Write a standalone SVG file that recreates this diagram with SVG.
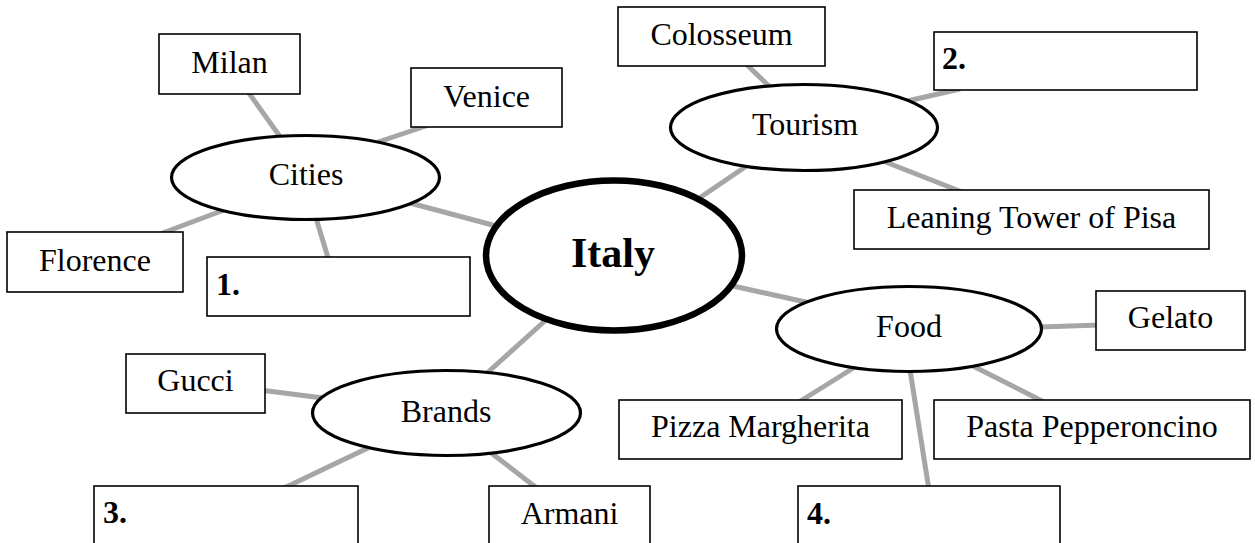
<svg xmlns="http://www.w3.org/2000/svg" width="1255" height="543" viewBox="0 0 1255 543">
<style>
.bg{fill:#ffffff}
.ln{stroke:#a6a6a6;stroke-width:5;fill:none;stroke-linecap:butt}
.box{fill:#ffffff;stroke:#000000;stroke-width:1.6}
.ell{fill:#ffffff;stroke:#000000;stroke-width:3.2}
.main{fill:#ffffff;stroke:#000000;stroke-width:6.5}
.t{font-family:"Liberation Serif","Times New Roman",serif;font-size:32px;fill:#000000;text-anchor:middle}
.n{font-family:"Liberation Serif","Times New Roman",serif;font-size:32px;font-weight:bold;fill:#000000}
.big{font-family:"Liberation Serif","Times New Roman",serif;font-size:42px;font-weight:bold;fill:#000000;text-anchor:middle}
</style>
<rect class="bg" x="0" y="0" width="1255" height="543"/>
<g id="connectors">
<line class="ln" x1="246" y1="89" x2="281" y2="138"/>
<line class="ln" x1="429" y1="125" x2="378" y2="142"/>
<line class="ln" x1="160" y1="234" x2="224" y2="210"/>
<line class="ln" x1="316" y1="218" x2="329" y2="261"/>
<line class="ln" x1="410" y1="203" x2="500" y2="227"/>
<line class="ln" x1="745" y1="63" x2="771" y2="88"/>
<line class="ln" x1="960" y1="89" x2="903" y2="102"/>
<line class="ln" x1="883" y1="161" x2="962" y2="192"/>
<line class="ln" x1="748" y1="165" x2="695" y2="201"/>
<line class="ln" x1="733" y1="286" x2="810" y2="303"/>
<line class="ln" x1="1040" y1="327" x2="1100" y2="325"/>
<line class="ln" x1="855" y1="367" x2="799" y2="402"/>
<line class="ln" x1="971" y1="365" x2="1044" y2="402"/>
<line class="ln" x1="910" y1="370" x2="929" y2="490"/>
<line class="ln" x1="260" y1="390" x2="323" y2="398"/>
<line class="ln" x1="282" y1="489" x2="370" y2="447"/>
<line class="ln" x1="490" y1="452" x2="538" y2="489"/>
<line class="ln" x1="486" y1="374" x2="547" y2="319"/>
</g>
<g id="italy"><ellipse class="main" cx="614" cy="255.5" rx="128" ry="75"/><text class="big" x="613" y="267">Italy</text></g>
<g id="cities"><ellipse class="ell" cx="305.5" cy="177.5" rx="134" ry="42"/><text class="t" x="306" y="185">Cities</text></g>
<g id="tourism"><ellipse class="ell" cx="804" cy="127.5" rx="133.5" ry="43"/><text class="t" x="805" y="135">Tourism</text></g>
<g id="brands"><ellipse class="ell" cx="446.5" cy="413" rx="134" ry="42.5"/><text class="t" x="446" y="422">Brands</text></g>
<g id="food"><ellipse class="ell" cx="909" cy="329" rx="132.5" ry="42.5"/><text class="t" x="909" y="337">Food</text></g>
<g id="milan"><rect class="box" x="159" y="34" width="141" height="60"/><text class="t" x="229.5" y="73">Milan</text></g>
<g id="venice"><rect class="box" x="411" y="68" width="151" height="59"/><text class="t" x="486.5" y="107">Venice</text></g>
<g id="florence"><rect class="box" x="7" y="232" width="176" height="60"/><text class="t" x="95" y="271">Florence</text></g>
<g id="blank1"><rect class="box" x="207" y="257" width="263" height="59"/><text class="n" x="216" y="295">1.</text></g>
<g id="colosseum"><rect class="box" x="618" y="7" width="207" height="59"/><text class="t" x="721.5" y="45">Colosseum</text></g>
<g id="blank2"><rect class="box" x="934" y="32" width="263" height="58"/><text class="n" x="942" y="69">2.</text></g>
<g id="pisa"><rect class="box" x="854" y="190" width="355" height="59"/><text class="t" x="1031.5" y="228">Leaning Tower of Pisa</text></g>
<g id="gelato"><rect class="box" x="1096" y="291" width="149" height="59"/><text class="t" x="1170.5" y="328">Gelato</text></g>
<g id="pizza"><rect class="box" x="619" y="400" width="283" height="59"/><text class="t" x="760.5" y="437">Pizza Margherita</text></g>
<g id="pasta"><rect class="box" x="934" y="400" width="316" height="59"/><text class="t" x="1092" y="437">Pasta Pepperoncino</text></g>
<g id="gucci"><rect class="box" x="126" y="354" width="139" height="59"/><text class="t" x="195.5" y="391">Gucci</text></g>
<g id="blank3"><rect class="box" x="94" y="486" width="264" height="70"/><text class="n" x="103" y="523">3.</text></g>
<g id="armani"><rect class="box" x="489" y="486" width="161" height="70"/><text class="t" x="569.5" y="524">Armani</text></g>
<g id="blank4"><rect class="box" x="798" y="486" width="262" height="70"/><text class="n" x="807" y="524">4.</text></g>
</svg>
